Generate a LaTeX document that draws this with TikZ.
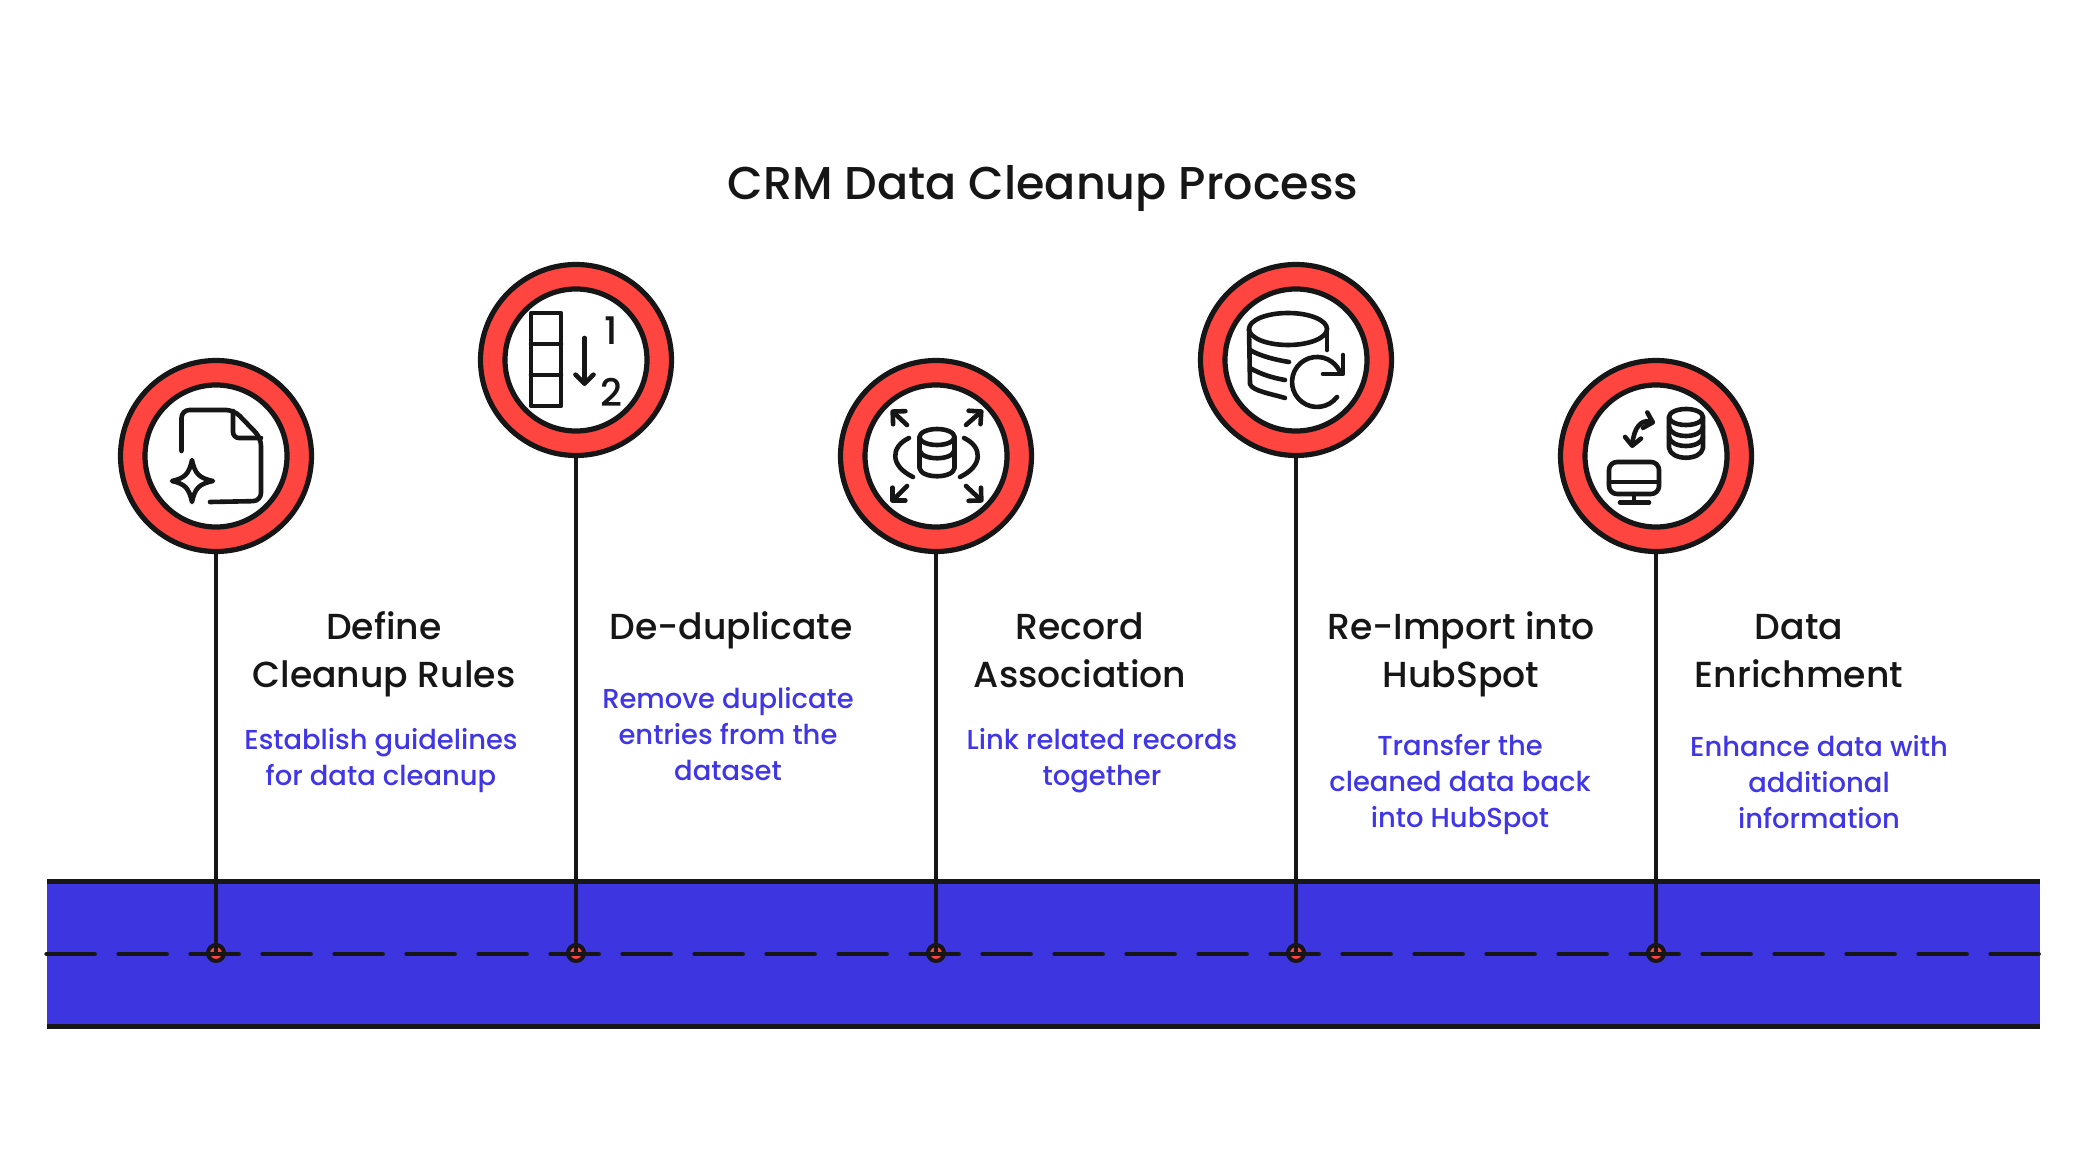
\documentclass[tikz,border=0pt]{standalone}
\usepackage{tikz}
\usepackage{xcolor}
\usepackage{fontspec}
\setmainfont[UprightFont=* Medium]{Poppins}
\usetikzlibrary{arrows.meta}

\definecolor{ringred}{HTML}{FF4540}
\definecolor{roadblue}{HTML}{3D35E0}
\definecolor{descblue}{HTML}{4036E6}
\definecolor{inkblack}{HTML}{161616}

\tikzset{
    ring/.style={circle, draw=inkblack, fill=ringred, line width=2.6pt, minimum size=95.5pt, inner sep=0},
    hole/.style={circle, draw=inkblack, fill=white, line width=2.6pt, minimum size=71pt, inner sep=0},
    dot/.style={circle, draw=inkblack, fill=ringred, line width=2pt, minimum size=8pt, inner sep=0},
    road/.style={rectangle, fill=roadblue, minimum width=996.5pt, minimum height=72pt, inner sep=0},
    stem/.style={inkblack, line width=2.3pt},
    edge/.style={inkblack, line width=2.3pt},
    icon/.style={inkblack, line width=2.3pt, line cap=round, line join=round},
    barb/.style={-{Straight Barb[length=4.5pt,width=9pt,round]}},
    heading/.style={align=center, text=inkblack, font=\fontsize{18.1}{24}\selectfont},
    desc/.style={align=center, text=descblue, font=\fontsize{13.7}{18}\selectfont},
}

\begin{document}
\begin{tikzpicture}[x=0.5pt, y=-0.5pt]
\useasboundingbox (0,0) rectangle (2088,1176);

\node[font=\fontsize{23}{28}\selectfont, text=inkblack] (title) at (1043,189) {CRM Data Cleanup Process};

% road
\node[road] (band) at (1043.5,954) {};
\draw[edge] (band.north west) -- (band.north east);
\draw[edge] (band.south west) -- (band.south east);
\draw
    (216,953)  node[dot](da) {}
    (576,953)  node[dot](db) {}
    (936,953)  node[dot](dc) {}
    (1296,953) node[dot](dd) {}
    (1656,953) node[dot](de) {}
    ;
\draw[edge, line cap=round, dash pattern=on 24pt off 12pt] (band.west) -- (band.east);

% rings
\draw
    (216,456)  node[ring](a) {} node[hole](ia) {}
    (576,360)  node[ring](b) {} node[hole](ib) {}
    (936,456)  node[ring](c) {} node[hole](ic) {}
    (1296,360) node[ring](d) {} node[hole](id) {}
    (1656,456) node[ring](e) {} node[hole](ie) {}
    ;
\draw[stem] (a.south) -- (da.center);
\draw[stem] (b.south) -- (db.center);
\draw[stem] (c.south) -- (dc.center);
\draw[stem] (d.south) -- (dd.center);
\draw[stem] (e.south) -- (de.center);

% texts
\node[heading] (ha) at (384,654) {Define\\Cleanup Rules};
\node[heading] (hb) at (731,630) {De-duplicate};
\node[heading] (hc) at (1080,650) {Record\\Association};
\node[heading] (hd) at (1461,654) {Re-Import into\\HubSpot};
\node[heading] (he) at (1799,651) {Data\\Enrichment};
\node[desc] (ta) at (381,761) {Establish guidelines\\for data cleanup};
\node[desc] (tb) at (728,734) {Remove duplicate\\entries from the\\dataset};
\node[desc] (tc) at (1102,761) {Link related records\\together};
\node[desc] (td) at (1460,785) {Transfer the\\cleaned data back\\into HubSpot};
\node[desc] (te) at (1819,782) {Enhance data with\\additional\\information};

% icon a
\draw[icon, rounded corners=4pt] (181.5,451) -- (181.5,410) -- (234,410) -- (261,438) -- (261,501) -- (210,502);
\draw[icon, rounded corners=3pt] (233,411) -- (233,438) -- (261,438);
\draw[icon] (192,460) .. controls (195,474) and (199,478) .. (213,481)
    .. controls (199,484) and (195,488) .. (192,502)
    .. controls (189,488) and (185,484) .. (172,481)
    .. controls (185,478) and (189,474) .. (192,460) -- cycle;

% icon b
\draw[icon] (531,313) rectangle (561,406);
\draw[icon] (531,344) -- (561,344);
\draw[icon] (531,375) -- (561,375);
\draw[icon, barb] (584.5,338) -- (584.5,386);
\node[font=\fontsize{19}{20}\selectfont, text=inkblack] (one) at (611,331) {1};
\node[font=\fontsize{19}{20}\selectfont, text=inkblack] (two) at (611,392) {2};

% icon c
\draw[icon, barb] (907,425) -- (891,410);
\draw[icon, barb] (966,425) -- (983,410);
\draw[icon, barb] (907,486) -- (891,502);
\draw[icon, barb] (966,486) -- (983,502);
\draw[icon] (937,437) ellipse (17.5 and 8);
\draw[icon] (919.5,437) -- (919.5,468) .. controls (921,479) and (953,479) .. (954.5,468) -- (954.5,437);
\draw[icon] (919.5,450) .. controls (921,461) and (953,461) .. (954.5,450);
\draw[icon] (909,438) .. controls (890,447) and (890,466) .. (913,477);
\draw[icon] (964,438) .. controls (983,447) and (983,466) .. (960,477);

% icon d
\draw[icon] (1288,329) ellipse (39 and 16);
\draw[icon] (1327,329) -- (1327,350);
\draw[icon] (1249,329) -- (1250,384) .. controls (1252,391) and (1272,394) .. (1285,398);
\draw[icon] (1250,350) .. controls (1260,356) and (1276,360) .. (1289,362);
\draw[icon] (1250,368) .. controls (1260,374) and (1273,378) .. (1285,380);
\draw[icon] (1337,397) arc[start angle=37, end angle=340, radius=25];
\draw[icon] (1323,374) -- (1343,374) -- (1343,355);

% icon e
\draw[icon, rounded corners=4pt] (1609,462) rectangle (1659,494);
\draw[icon] (1609,482) -- (1659,482);
\draw[icon] (1634,494) -- (1634,502);
\draw[icon] (1620,502.5) -- (1649,502.5);
\draw[icon] (1686,417) ellipse (17 and 8);
\draw[icon] (1669,417) -- (1669,448) .. controls (1671,461) and (1701,461) .. (1703,448) -- (1703,417);
\draw[icon] (1669,427) .. controls (1671,439) and (1701,439) .. (1703,427);
\draw[icon] (1669,437) .. controls (1671,449) and (1701,449) .. (1703,437);
\draw[icon, {Straight Barb[length=4pt,width=8pt,round]}-{Straight Barb[length=4pt,width=8pt,round]}] (1655,423) .. controls (1641,419) and (1634,428) .. (1632,448);

\end{tikzpicture}
\end{document}
